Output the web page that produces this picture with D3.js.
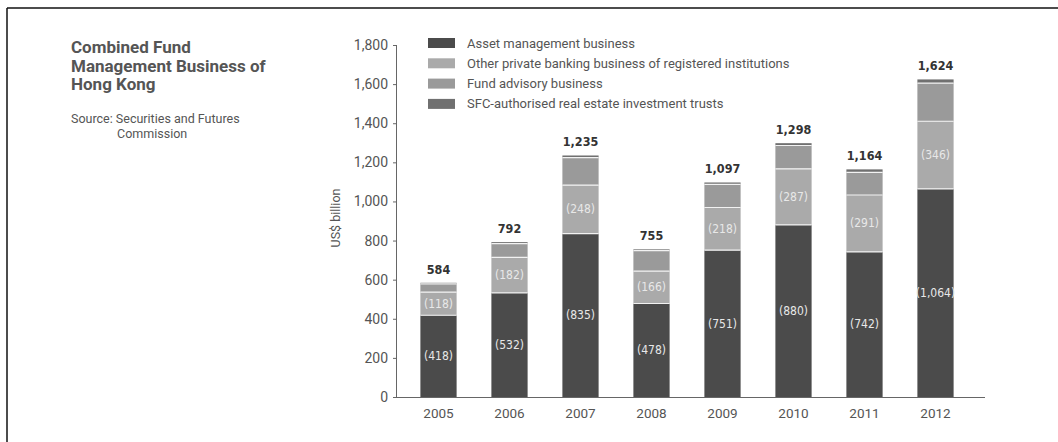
<!DOCTYPE html>
<html>
<head>
<meta charset="utf-8">
<script src="https://cdn.jsdelivr.net/npm/d3@7"></script>
<style>
  body { margin: 0; background: #fff; }
  svg { font-family: "DejaVu Sans Condensed", "Roboto Condensed", Roboto, sans-serif; }
</style>
</head>
<body>
<svg id="chart" width="1058" height="442"></svg>
<script>
var years = ["2005","2006","2007","2008","2009","2010","2011","2012"];
var assetMgmt = [418, 532, 835, 478, 751, 880, 742, 1064];
var privateBanking = [118, 182, 248, 166, 218, 287, 291, 346];
var fundAdvisory = [42, 70, 141, 104, 118, 119, 116, 195];
var reits = [6, 8, 11, 7, 10, 12, 15, 19];
var totals = [584, 792, 1235, 755, 1097, 1298, 1164, 1624];
var yTicks = [0, 200, 400, 600, 800, 1000, 1200, 1400, 1600, 1800];
var seriesNames = ["Asset management business",
  "Other private banking business of registered institutions",
  "Fund advisory business",
  "SFC-authorised real estate investment trusts"];
var colors = ["#4b4b4b", "#aaaaaa", "#9a9a9a", "#707070"];

var svg = d3.select("#chart");

// frame (top + left only, like the scan)
svg.append("line").attr("x1", 7).attr("x2", 1058).attr("y1", 8).attr("y2", 8)
  .attr("stroke", "#111").attr("stroke-width", 1.5);
svg.append("line").attr("x1", 7).attr("x2", 7).attr("y1", 8).attr("y2", 442)
  .attr("stroke", "#111").attr("stroke-width", 1.5);

// title + source
var title = svg.append("text").attr("x", 71).attr("y", 53)
  .attr("font-size", 17).attr("font-weight", "bold").attr("fill", "#555")
  .style("font-family", "Roboto, sans-serif");
["Combined Fund", "Management Business of", "Hong Kong"].forEach(function(t, i) {
  title.append("tspan").attr("x", 71).attr("dy", i ? 18.5 : 0).text(t);
});
svg.append("text").attr("x", 71).attr("y", 123).attr("font-size", 12.5).attr("fill", "#555")
  .style("font-family", "Roboto, sans-serif").text("Source: Securities and Futures");
svg.append("text").attr("x", 117).attr("y", 138).attr("font-size", 12.5).attr("fill", "#555")
  .style("font-family", "Roboto, sans-serif").text("Commission");

var x = d3.scaleBand().domain(years).range([403, 971]).paddingInner(0.49).paddingOuter(0.245);
var y = d3.scaleLinear().domain([0, 1800]).range([397, 45]);

var data = years.map(function(yr, i) {
  return { year: yr, a: assetMgmt[i], b: privateBanking[i], c: fundAdvisory[i], d: reits[i] };
});
var stack = d3.stack().keys(["a", "b", "c", "d"]);
var layers = stack(data);

var g = svg.append("g");
g.selectAll("g.layer").data(layers).enter().append("g")
    .attr("fill", function(d, i) { return colors[i]; })
  .selectAll("rect").data(function(d) { return d; }).enter().append("rect")
    .attr("x", function(d) { return x(d.data.year); })
    .attr("width", x.bandwidth())
    .attr("y", function(d) { return y(d[1]); })
    .attr("height", function(d) { return y(d[0]) - y(d[1]); });

// white separators between segments
layers.slice(1).forEach(function(layer) {
  g.selectAll(null).data(layer).enter().append("line")
    .attr("x1", function(d) { return x(d.data.year); })
    .attr("x2", function(d) { return x(d.data.year) + x.bandwidth(); })
    .attr("y1", function(d) { return y(d[0]); })
    .attr("y2", function(d) { return y(d[0]); })
    .attr("stroke", "#f2f2f2").attr("stroke-width", 1.2);
});

// segment labels
function fmt(v) { return "(" + d3.format(",")(v) + ")"; }
[0, 1].forEach(function(k) {
  g.selectAll(null).data(layers[k]).enter().append("text")
    .attr("x", function(d) { return x(d.data.year) + x.bandwidth() / 2; })
    .attr("y", function(d) { return (y(d[0]) + y(d[1])) / 2 + 4; })
    .attr("text-anchor", "middle").attr("font-size", 12).attr("fill", "#e8e8e8")
    .text(function(d) { return fmt(d.data[k ? "b" : "a"]); });
});

// totals
g.selectAll(null).data(totals).enter().append("text")
  .attr("x", function(d, i) { return x(years[i]) + x.bandwidth() / 2; })
  .attr("y", function(d) { return y(d) - 9; })
  .attr("text-anchor", "middle").attr("font-size", 12.5).attr("font-weight", "bold").attr("fill", "#333")
  .text(function(d) { return d3.format(",")(d); });

// axes
var yAxis = svg.append("g").attr("transform", "translate(397,0)")
  .call(d3.axisLeft(y).tickValues(yTicks).tickSize(4).tickPadding(5).tickFormat(d3.format(",")));
yAxis.select(".domain").attr("stroke", "#666").attr("d", "M-0.5,45V397");
yAxis.selectAll(".tick line").attr("stroke", "#666");
yAxis.selectAll("text").attr("font-size", 14).attr("fill", "#555").style("font-family", "Roboto, sans-serif");

svg.append("line").attr("x1", 396).attr("x2", 985).attr("y1", 397.5).attr("y2", 397.5)
  .attr("stroke", "#666");
var xAxis = svg.append("g").attr("transform", "translate(0,397)")
  .call(d3.axisBottom(x).tickSize(0).tickPadding(11));
xAxis.select(".domain").remove();
xAxis.selectAll("text").attr("font-size", 13.5).attr("fill", "#555").style("font-family", "Roboto, sans-serif");

svg.append("text").attr("transform", "translate(340,218) rotate(-90)")
  .attr("text-anchor", "middle").attr("font-size", 12.5).attr("fill", "#555")
  .style("font-family", "Roboto, sans-serif").text("US$ billion");

// legend
var legend = svg.append("g");
seriesNames.forEach(function(name, i) {
  var row = legend.append("g").attr("transform", "translate(428," + (38 + i * 20.3) + ")");
  row.append("rect").attr("width", 27).attr("height", 10).attr("fill", colors[i]);
  row.append("text").attr("x", 39).attr("y", 9.5).attr("font-size", 13).attr("fill", "#555")
    .style("font-family", "Roboto, sans-serif").text(name);
});
</script>
</body>
</html>
